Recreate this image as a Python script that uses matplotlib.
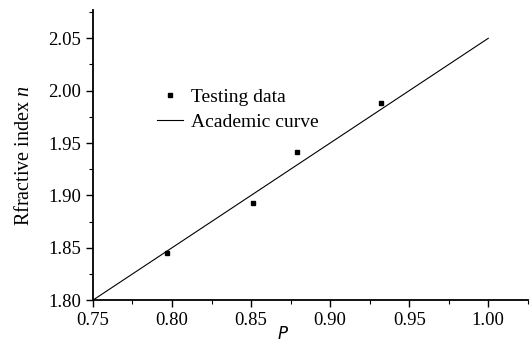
import matplotlib
matplotlib.use("Agg")
import matplotlib.pyplot as plt
from matplotlib.ticker import MultipleLocator

plt.rcParams['font.family'] = ['Liberation Serif', 'DejaVu Serif']
plt.rcParams['mathtext.fontset'] = 'custom'
plt.rcParams['mathtext.it'] = 'Liberation Serif:italic'

# testing data
p_test = [0.797, 0.851, 0.879, 0.932]
n_test = [1.845, 1.893, 1.941, 1.988]

# academic curve
p_curve = [0.75, 1.00]
n_curve = [1.80, 2.05]

fig = plt.figure(figsize=(5.31, 3.45), dpi=100)
ax = fig.add_axes([0.175, 0.130, 0.819, 0.841])

ax.plot(p_test, n_test, 's', color='black', markersize=3.5, label='Testing data')
ax.plot(p_curve, n_curve, '-', color='black', linewidth=0.8, label='Academic curve')

ax.set_xlim(0.75, 1.025)
ax.set_ylim(1.80, 2.077)
ax.xaxis.set_major_locator(MultipleLocator(0.05))
ax.yaxis.set_major_locator(MultipleLocator(0.05))
ax.xaxis.set_minor_locator(MultipleLocator(0.025))
ax.yaxis.set_minor_locator(MultipleLocator(0.025))
ax.xaxis.set_major_formatter(plt.FormatStrFormatter('%.2f'))
ax.yaxis.set_major_formatter(plt.FormatStrFormatter('%.2f'))
ax.tick_params(which='major', length=5, width=1, labelsize=13.5, direction='out')
ax.tick_params(which='minor', length=3, width=0.8, direction='out')

for s in ['top', 'right']:
    ax.spines[s].set_visible(False)
for s in ['left', 'bottom']:
    ax.spines[s].set_linewidth(1.3)

ax.set_ylabel('Rfractive index $n$', fontsize=14.5)
ax.yaxis.set_label_coords(-0.135, 0.5)
ax.set_xlabel('P', fontsize=12, style='italic', family='DejaVu Sans')
ax.xaxis.set_label_coords(0.437, -0.085)

leg = ax.legend(loc='upper left', bbox_to_anchor=(0.108, 0.79), frameon=False,
                fontsize=14, handlelength=1.3, handletextpad=0.45,
                labelspacing=0.38, markerscale=0.8)

fig.savefig('out.png', dpi=100)
